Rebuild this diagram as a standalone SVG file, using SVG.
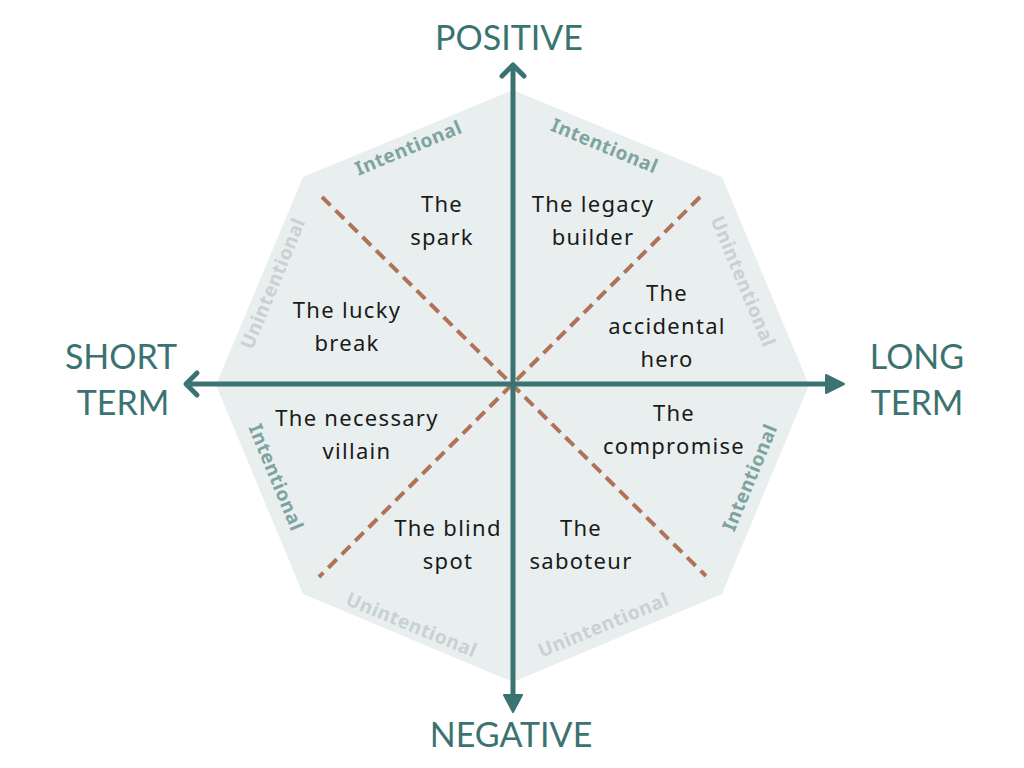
<svg xmlns="http://www.w3.org/2000/svg" width="1024" height="768" viewBox="0 0 1024 768">
<style>
.q{font-family:"Noto Sans","DejaVu Sans",sans-serif;font-size:22px;fill:#1a1a1a;text-anchor:middle;letter-spacing:1.3px}
.ax{font-family:"Lato","Noto Sans",sans-serif;font-size:34px;fill:#3a7371;text-anchor:middle}
.in{font-family:"Noto Sans","DejaVu Sans",sans-serif;font-size:19px;font-weight:bold;fill:#7ea3a1;text-anchor:middle;letter-spacing:0.6px}
.un{font-family:"Noto Sans","DejaVu Sans",sans-serif;font-size:19px;font-weight:bold;fill:#c7d2d2;text-anchor:middle;letter-spacing:0.6px}
.axis{stroke:#3a7371;stroke-width:5;fill:none}
.dash{stroke:#b07358;stroke-width:4;stroke-dasharray:12 7;fill:none}
</style>
<rect width="1024" height="768" fill="#ffffff"/>
<g id="octagon">
<polygon points="513,90 722,177 809,385 722,594 513,682 303,594 216,385 303,177" fill="#e8efee"/>
</g>
<g id="edge-labels">
<text class="in" transform="translate(411,154) rotate(-22.5)">Intentional</text>
<text class="in" transform="translate(602,152) rotate(22.5)">Intentional</text>
<text class="un" transform="translate(737,284) rotate(67.5)">Unintentional</text>
<text class="un" transform="translate(279,286) rotate(-67.5)">Unintentional</text>
<text class="in" transform="translate(270,480) rotate(67.5)">Intentional</text>
<text class="in" transform="translate(756,480) rotate(-67.5)">Intentional</text>
<text class="un" transform="translate(409,631) rotate(22.5)">Unintentional</text>
<text class="un" transform="translate(606,631) rotate(-22.5)">Unintentional</text>
</g>
<g id="connectors">
<line class="dash" x1="322" y1="197" x2="706" y2="576"/>
<line class="dash" x1="700" y1="197" x2="319" y2="577"/>
<line class="axis" x1="513" y1="68" x2="513" y2="700"/>
<line class="axis" x1="190" y1="384" x2="830" y2="384"/>
<polyline class="axis" points="502,76 513,65 524,76" stroke-linecap="round" stroke-linejoin="round"/>
<polyline class="axis" points="197,373 186,384 197,395" stroke-linecap="round" stroke-linejoin="round"/>
<polygon points="826,375 844,384 826,393" fill="#3a7371" stroke="#3a7371" stroke-width="2" stroke-linejoin="round"/>
<polygon points="504,695 513,712 522,695" fill="#3a7371" stroke="#3a7371" stroke-width="2" stroke-linejoin="round"/>
</g>
<g id="axis-labels">
<text class="ax" x="509" y="50">POSITIVE</text>
<text class="ax" x="511" y="747">NEGATIVE</text>
<text class="ax" x="121" y="369">SHORT</text>
<text class="ax" x="123" y="415">TERM</text>
<text class="ax" x="917" y="369">LONG</text>
<text class="ax" x="917" y="415">TERM</text>
</g>
<g id="n-spark"><text class="q" x="442" y="212">The</text><text class="q" x="442" y="245">spark</text></g>
<g id="n-legacy"><text class="q" x="593" y="212">The legacy</text><text class="q" x="593" y="245">builder</text></g>
<g id="n-lucky"><text class="q" x="347" y="318">The lucky</text><text class="q" x="347" y="351">break</text></g>
<g id="n-accidental"><text class="q" x="667" y="301">The</text><text class="q" x="667" y="334">accidental</text><text class="q" x="667" y="367">hero</text></g>
<g id="n-villain"><text class="q" x="357" y="426">The necessary</text><text class="q" x="357" y="459">villain</text></g>
<g id="n-compromise"><text class="q" x="674" y="421">The</text><text class="q" x="674" y="454">compromise</text></g>
<g id="n-blind"><text class="q" x="448" y="536">The blind</text><text class="q" x="448" y="569">spot</text></g>
<g id="n-saboteur"><text class="q" x="581" y="536">The</text><text class="q" x="581" y="569">saboteur</text></g>
</svg>
